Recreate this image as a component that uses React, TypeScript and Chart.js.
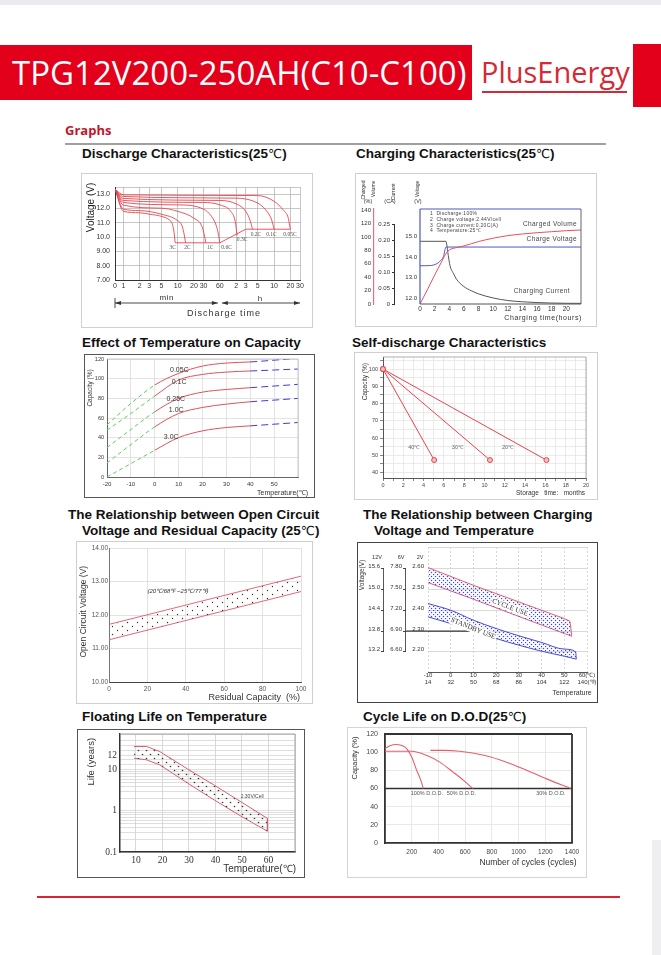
import React, { useEffect, useRef } from 'react';
import { Chart, registerables } from 'chart.js';

Chart.register(...registerables);

const SANS = '"Liberation Sans", Arial, Helvetica, sans-serif';
const SERIF = '"Liberation Serif", "DejaVu Serif", serif';
const OPEN = '"Open Sans", "Noto Sans", sans-serif';
Chart.defaults.font.family = SANS;

const RED = '#e8434b';

/* ---------- 1. Discharge characteristics (x: minutes, log) ---------- */
const dischargeTickMinutes = [0.7, 1, 2, 3, 5, 10, 20, 30, 60, 120, 180, 300, 600, 1200, 1800];
const dischargeTickLabels = ['0', '1', '2', '3', '5', '10', '20', '30', '60', '2', '3', '5', '10', '20', '30'];
const dischargeVoltTicks = [7, 8, 9, 10, 11, 12, 13, 13.5];
const dischargeVoltLabels = ['7.00', '8.00', '9.00', '10.0', '11.0', '12.0', '13.0', ''];
const rateNames = ['3C', '2C', '1C', '0.6C', '0.3C', '0.2C', '0.1C', '0.05C'];
const minutes3C = [0.7, 1, 2, 3, 5, 7, 8, 8.6, 9];
const volts3C = [13.35, 11.8, 11.7, 11.6, 11.45, 11.2, 10.9, 10.3, 9.6];
const minutes2C = [0.7, 1, 2, 5, 10, 12, 13, 14];
const volts2C = [13.35, 11.95, 11.85, 11.6, 11.15, 10.8, 10.3, 9.6];
const minutes1C = [0.7, 1, 5, 10, 20, 28, 31, 33];
const volts1C = [13.35, 12.23, 12.02, 11.8, 11.32, 10.75, 10.15, 9.6];
const minutes06C = [0.7, 1, 10, 30, 42, 52, 57, 60];
const volts06C = [13.35, 12.42, 12.25, 11.95, 11.45, 10.75, 10.1, 9.6];
const minutes03C = [0.7, 1, 30, 60, 95, 115, 125];
const volts03C = [13.35, 12.56, 12.42, 12.25, 11.8, 11.1, 10.1];
const minutes02C = [0.7, 1, 60, 120, 180, 215, 240];
const volts02C = [13.35, 12.7, 12.56, 12.32, 11.8, 11.2, 10.55];
const minutes01C = [0.7, 1, 120, 300, 420, 540, 600];
const volts01C = [13.35, 12.84, 12.72, 12.37, 11.9, 11.2, 10.55];
const minutes005C = [0.7, 1, 300, 600, 880, 1100, 1160, 1200];
const volts005C = [13.35, 12.95, 12.9, 12.5, 11.9, 11.3, 10.8, 10.55];
const cutoffMinutes = [9, 60, 180, 1200];
const cutoffVolts = [9.6, 9.6, 10.55, 10.55];
const rateLabelMinutes = [8.1, 15.2, 40, 80, 154, 278, 536, 1178];
const rateLabelVolts = [9.25, 9.25, 9.25, 9.25, 9.84, 10.19, 10.19, 10.19];

/* ---------- 2. Charging characteristics ---------- */
const chargeHourTicks = [0, 2, 4, 6, 8, 10, 12, 14, 16, 18, 20];
const volumeTicks = [0, 20, 40, 60, 80, 100, 120, 140];
const currentTicks = [0, 0.05, 0.1, 0.15, 0.2, 0.25];
const currentTickLabels = ['0', '0.05', '0.10', '0.15', '0.20', '0.25'];
const chargeVoltTicks = [12, 13, 14, 15];
const chargeVoltTickLabels = ['12.0', '13.0', '14.0', '15.0'];
const volumeHours = [0, 1, 2, 3, 3.6, 4, 5, 6, 8, 10, 12, 14, 16, 18, 20, 22];
const volumePct = [0, 21, 43, 64, 76, 80.5, 84, 86.5, 93, 98, 101.8, 104.3, 106.2, 107.7, 109.2, 110.2];
const voltageHours = [0, 1.4, 2.3, 2.7, 3.2, 3.55, 22];
const voltageV = [13.57, 13.58, 13.67, 13.78, 14.02, 14.48, 14.48];
const currentHours = [0, 3.55, 3.64, 3.86, 4.09, 4.55, 5, 6, 7, 8, 10, 12, 14, 18, 22];
const currentCA = [0.198, 0.198, 0.19, 0.154, 0.122, 0.097, 0.078, 0.055, 0.042, 0.032, 0.019, 0.011, 0.007, 0.003, 0.002];
const chargeNotes = ['1  Discharge:100%', '2  Charge voltage:2.44V/cell', '3  Charge current:0.20C(A)', '4  Temperature:25℃'];

/* ---------- 3. Effect of temperature on capacity ---------- */
const tempTicks = [-20, -10, 0, 10, 20, 30, 40, 50, 60];
const tempTickLabels = ['-20', '-10', '0', '10', '20', '30', '40', '50', ''];
const capTicks = [0, 20, 40, 60, 80, 100, 120];
const capTemps = [-20, -10, 0, 10, 20, 30, 40, 50, 60];
const cap005C = [53, 74.8, 93.5, 105.4, 112.8, 115.9, 117, 118.8, 120.7];
const cap01C = [47.6, 64.6, 82.3, 98.6, 104.3, 106.7, 107.8, 108.8, 109.8];
const cap025C = [30, 48.3, 66.3, 79.9, 86.3, 89, 90.8, 92.5, 94.2];
const cap1C = [14.3, 33, 51, 64.6, 70.7, 74.1, 76.5, 78.2, 79.9];
const cap3C = [0, 13.6, 27.2, 40.1, 46.9, 50.3, 52, 53.7, 55.4];
const capCurveNames = ['0.05C', '0.1C', '0.25C', '1.0C', '3.0C'];
const capLabelTemps = [10.3, 10.2, 8.8, 9.0, 6.9];
const capLabelValues = [108.8, 96.8, 79.2, 68, 40.5];

/* ---------- 4. Self-discharge ---------- */
const storageTicks = [0, 1, 2, 3, 4, 5, 6, 7, 8, 9, 10, 11, 12, 13, 14, 15, 16, 17, 18, 19, 20];
const sdCapTicks = [40, 45, 50, 55, 60, 65, 70, 75, 80, 85, 90, 95, 100, 105];
const sd40Months = [0, 5.04];
const sd40Cap = [100, 47.2];
const sd30Months = [0, 10.54];
const sd30Cap = [100, 47.2];
const sd20Months = [0, 16.1];
const sd20Cap = [100, 47.2];
const sdLabelNames = ['40℃', '30℃', '20℃'];
const sdLabelMonths = [3.03, 7.33, 12.27];
const sdLabelCap = [54.5, 54.5, 54.5];

/* ---------- 5. Open circuit voltage vs residual capacity ---------- */
const ocvCapTicks = [0, 20, 40, 60, 80, 100];
const ocvVoltTicks = [10, 11, 12, 13, 14];
const ocvVoltLabels = ['10.00', '11.00', '12.00', '13.00', '14.00'];
const ocvResidual = [0, 100];
const ocvUpper = [11.72, 13.16];
const ocvLower = [11.26, 12.7];

/* ---------- 6. Charging voltage vs temperature ---------- */
const cvTempTicks = [-10, 0, 10, 20, 30, 40, 50, 60];
const cvTempLabelsC = ['-10', '0', '10', '20', '30', '40', '50', '60(℃)'];
const cvTempLabelsF = ['14', '32', '50', '68', '86', '104', '122', '140(℉)'];
const cv2Ticks = [2.2, 2.3, 2.4, 2.5, 2.6, 2.7];
const cv2Labels = ['2.20', '2.30', '2.40', '2.50', '2.60', ''];
const cv6Ticks = [6.6, 6.9, 7.2, 7.5, 7.8];
const cv6Labels = ['6.60', '6.90', '7.20', '7.50', '7.80'];
const cv12Ticks = [13.2, 13.8, 14.4, 15.0, 15.6];
const cv12Labels = ['13.2', '13.8', '14.4', '15.0', '15.6'];
const cycleUpperT = [-10, 10, 30, 50, 52.5, 53.3];
const cycleUpperV = [2.605, 2.52, 2.44, 2.36, 2.347, 2.275];
const cycleLowerT = [-10, 10, 30, 50, 53.3];
const cycleLowerV = [2.533, 2.453, 2.37, 2.288, 2.275];
const standbyUpperT = [-10, 0, 10, 20, 30, 40, 50, 55, 55.3];
const standbyUpperV = [2.432, 2.4, 2.352, 2.312, 2.277, 2.245, 2.213, 2.2, 2.165];
const standbyLowerT = [-10, 0, 10, 20, 30, 40, 50, 55.3];
const standbyLowerV = [2.368, 2.336, 2.3, 2.264, 2.232, 2.203, 2.179, 2.165];
const floatRefV = 2.3;
const floatRefEndT = 10;

/* ---------- 7. Floating life on temperature ---------- */
const floatTempTicks = [10, 20, 30, 40, 50, 60, 70];
const floatTempLabels = ['10', '20', '30', '40', '50', '60', ''];
const lifeGrid = [0.1, 0.2, 0.3, 0.4, 0.5, 0.6, 0.7, 0.8, 0.9, 1, 2, 3, 4, 5, 6, 7, 8, 9, 10, 10.7, 11.4, 12, 12.7, 13.4, 14.1, 15];
const lifeGridLabels = ['0.1', '', '', '', '', '', '', '', '', '1', '', '', '', '', '', '', '', '', '10', '', '', '12', '', '', '', ''];
const floatUpperT = [9.3, 14, 19, 29.6, 39.6, 49.6, 59.6, 59.6];
const floatUpperLife = [13.26, 13.26, 12.56, 10.1, 4.22, 1.67, 0.657, 0.321];
const floatLowerT = [9.3, 14, 19, 29.6, 39.6, 49.6, 59.6];
const floatLowerLife = [11.63, 11.4, 10.7, 4.72, 1.84, 0.748, 0.321];

/* ---------- 8. Cycle life on D.O.D ---------- */
const cycleTicks = [0, 200, 400, 600, 800, 1000, 1200, 1400];
const cycleTickLabels = ['', '200', '400', '600', '800', '1000', '1200', '1400'];
const cycleCapTicks = [0, 20, 40, 60, 80, 100, 120];
const dod100Cycles = [0, 37, 82, 125, 162, 200, 237, 267, 287];
const dod100Cap = [104, 107, 108.5, 107.4, 104, 94.7, 80, 69.5, 60];
const dod50Cycles = [0, 100, 200, 310, 410, 510, 590, 657];
const dod50Cap = [101, 101, 101, 96.6, 89, 78, 68.7, 60];
const dod30Cycles = [340, 440, 560, 740, 910, 1060, 1210, 1390];
const dod30Cap = [102, 102, 101, 96.6, 89, 80, 70.6, 60];
const eolCapacity = 60;
const dodNames = ['100% D.O.D.', '50% D.O.D.', '30% D.O.D.'];
const dodLabelCycles = [192, 462, 1132];
const dodLabelCap = [54.6, 54.6, 54.6];

/* ---------- helpers ---------- */
const lifeAxis = (v: number) => (v <= 10 ? Math.log10(v) : 1 + (v - 10) * 0.175);

const ticksFrom = (values: number[]) => (s: any) => {
  s.ticks = values.map((v) => ({ value: v }));
};
const labelsFrom = (labels: any[]) => (_v: any, i: number) => labels[i];
const fitW = (w: number) => (s: any) => {
  s.width = w;
  s.paddingTop = 0;
  s.paddingBottom = 0;
};
const fitH = (h: number) => (s: any) => {
  s.height = h;
  s.paddingLeft = 0;
  s.paddingRight = 0;
};
const font = (size: number, family = SANS) => ({ size, family });

function line(xs: number[], ys: number[], color: string, width = 1, extra: any = {}) {
  return {
    data: xs.map((x, i) => ({ x, y: ys[i] })),
    borderColor: color,
    borderWidth: width,
    pointRadius: 0,
    fill: false,
    tension: 0,
    ...extra,
  };
}

function base(padding: any) {
  return {
    responsive: false,
    maintainAspectRatio: false,
    animation: false,
    devicePixelRatio: 1,
    events: [],
    layout: { padding },
    plugins: { legend: { display: false }, tooltip: { enabled: false }, title: { display: false } },
  };
}

type T = {
  text: string; x: number; y: number; dx?: boolean; dy?: boolean; xs?: string; ys?: string;
  size: number; family?: string; weight?: string; style?: string; color?: string;
  align?: CanvasTextAlign; baseline?: CanvasTextBaseline; rot?: number; spacing?: number; bg?: string;
};

function textPlugin(id: string, items: T[]) {
  return {
    id,
    afterDraw(chart: any) {
      const ctx: CanvasRenderingContext2D = chart.ctx;
      for (const it of items) {
        const px = it.dx ? chart.scales[it.xs || 'x'].getPixelForValue(it.x) : it.x;
        const py = it.dy ? chart.scales[it.ys || 'y'].getPixelForValue(it.y) : it.y;
        ctx.save();
        ctx.translate(px, py);
        if (it.rot) ctx.rotate((it.rot * Math.PI) / 180);
        ctx.font = `${it.style || 'normal'} ${it.weight || 'normal'} ${it.size}px ${it.family || SANS}`;
        (ctx as any).letterSpacing = (it.spacing || 0) + 'px';
        ctx.textAlign = it.align || 'center';
        ctx.textBaseline = it.baseline || 'middle';
        if (it.bg) {
          const w = ctx.measureText(it.text).width;
          const x0 = ctx.textAlign === 'center' ? -w / 2 : ctx.textAlign === 'right' ? -w : 0;
          ctx.fillStyle = it.bg;
          ctx.fillRect(x0 - 1, -it.size * 0.6, w + 2, it.size * 1.2);
        }
        ctx.fillStyle = it.color || '#333';
        ctx.fillText(it.text, 0, 0);
        ctx.restore();
      }
    },
  };
}

function drawPlugin(id: string, fn: (chart: any, ctx: CanvasRenderingContext2D) => void) {
  return {
    id,
    afterDraw(chart: any) {
      const ctx = chart.ctx;
      ctx.save();
      fn(chart, ctx);
      ctx.restore();
    },
  };
}

function seg(ctx: CanvasRenderingContext2D, x1: number, y1: number, x2: number, y2: number, color: string, w = 1) {
  ctx.strokeStyle = color;
  ctx.lineWidth = w;
  ctx.beginPath();
  ctx.moveTo(x1, y1);
  ctx.lineTo(x2, y2);
  ctx.stroke();
}

function dotPattern(canvas: HTMLCanvasElement, tw: number, th: number, dots: number[][], color: string, r: number) {
  const c = document.createElement('canvas');
  c.width = tw;
  c.height = th;
  const g = c.getContext('2d')!;
  g.fillStyle = color;
  dots.forEach(([x, y]) => {
    g.beginPath();
    g.arc(x, y, r, 0, Math.PI * 2);
    g.fill();
  });
  return canvas.getContext('2d')!.createPattern(c, 'repeat');
}

/* ---------- chart configs ---------- */
function dischargeChart() {
  const series = [
    [minutes3C, volts3C], [minutes2C, volts2C], [minutes1C, volts1C], [minutes06C, volts06C],
    [minutes03C, volts03C], [minutes02C, volts02C], [minutes01C, volts01C], [minutes005C, volts005C],
  ];
  const datasets: any[] = series.map(([m, v]) => line(m, v, RED, 0.9, { cubicInterpolationMode: 'monotone' }));
  datasets.push(line(cutoffMinutes, cutoffVolts, RED, 0.9));
  const texts: T[] = rateNames.map((n, i) => ({
    text: n, x: rateLabelMinutes[i], y: rateLabelVolts[i], dx: true, dy: true, size: 5.5, family: SERIF, color: '#555',
  }));
  texts.push(
    { text: 'Voltage (V)', x: 10, y: 34.5, rot: -90, size: 10, color: '#222' },
    { text: 'min', x: 85.7, y: 125, size: 8, color: '#333', spacing: 0.5 },
    { text: 'h', x: 179, y: 126, size: 8, color: '#333' },
    { text: 'Discharge time', x: 143, y: 140.5, size: 9, color: '#333', spacing: 1 },
  );
  const arrows = drawPlugin('arrows', (chart, ctx) => {
    const xs = chart.scales.x;
    const y = 130;
    const a = xs.getPixelForValue(0.7);
    const m = xs.getPixelForValue(60);
    const b = xs.getPixelForValue(1800);
    seg(ctx, a, y, m - 2, y, '#333', 0.9);
    seg(ctx, m + 2, y, b, y, '#333', 0.9);
    seg(ctx, a, y - 5, a, y + 5, '#333', 0.9);
    ctx.fillStyle = '#333';
    const head = (x: number, dir: number) => {
      ctx.beginPath();
      ctx.moveTo(x, y);
      ctx.lineTo(x - dir * 6, y - 2);
      ctx.lineTo(x - dir * 6, y + 2);
      ctx.closePath();
      ctx.fill();
    };
    head(a, -1);
    head(m - 2, 1);
    head(m + 2, -1);
    head(b, 1);
  });
  return {
    type: 'line',
    data: { datasets },
    options: {
      ...base({ left: 0, top: 14, right: 13, bottom: 0 }),
      scales: {
        x: {
          type: 'logarithmic', bounds: 'data', min: 0.7, max: 1800,
          afterBuildTicks: ticksFrom(dischargeTickMinutes), afterFit: fitH(48),
          ticks: { autoSkip: false, maxRotation: 0, minRotation: 0, padding: 2, color: '#333', font: font(7), callback: labelsFrom(dischargeTickLabels) },
          grid: { color: '#b8b8b8', lineWidth: 0.8, drawTicks: false },
          border: { color: '#333', width: 1 },
        },
        y: {
          type: 'linear', bounds: 'data', min: 7, max: 13.5,
          afterBuildTicks: ticksFrom(dischargeVoltTicks), afterFit: fitW(34),
          ticks: { autoSkip: false, padding: 5, color: '#333', font: font(7), callback: labelsFrom(dischargeVoltLabels) },
          grid: { color: '#b8b8b8', lineWidth: 0.8, drawTicks: false },
          border: { color: '#333', width: 1 },
        },
      },
    },
    plugins: [textPlugin('t1', texts), arrows],
  };
}

function chargingChart() {
  const datasets = [
    line(volumeHours, volumePct, '#e8505a', 1, { yAxisID: 'y', cubicInterpolationMode: 'monotone' }),
    line(voltageHours, voltageV, '#4a5ac0', 1, { yAxisID: 'yV', cubicInterpolationMode: 'monotone' }),
    line(currentHours, currentCA, '#555', 1, { yAxisID: 'yCA', cubicInterpolationMode: 'monotone' }),
  ];
  const texts: T[] = [
    { text: '(%)', x: 13, y: 28.7, size: 5.5 },
    { text: '(CA)', x: 35, y: 28.7, size: 5.5 },
    { text: '(V)', x: 63, y: 28.7, size: 5.5 },
    { text: 'Charged', x: 8.3, y: 17, rot: -90, size: 5 },
    { text: 'Volume', x: 18.3, y: 16, rot: -90, size: 5 },
    { text: 'Current', x: 38.3, y: 18.7, rot: -90, size: 5 },
    { text: 'Voltage', x: 62.7, y: 16, rot: -90, size: 5 },
    { text: 'Charged Volume', x: 222, y: 51.7, align: 'right', size: 6.5, spacing: 0.4, color: '#444' },
    { text: 'Charge Voltage', x: 222, y: 66.3, align: 'right', size: 6.5, spacing: 0.4, color: '#444' },
    { text: 'Charging Current', x: 215, y: 118, align: 'right', size: 6.5, spacing: 0.4, color: '#444' },
    { text: 'Charging time(hours)', x: 227, y: 144.7, align: 'right', size: 7, spacing: 0.6, color: '#333' },
  ];
  chargeNotes.forEach((n, i) => texts.push({ text: n, x: 75, y: 41 + i * 5.6, align: 'left', size: 5, spacing: 0.3, color: '#444' }));
  const frame = drawPlugin('frame2', (chart, ctx) => {
    const a = chart.chartArea;
    seg(ctx, a.left, a.top, a.left, a.bottom, '#4a5ac0', 1.2);
    seg(ctx, a.left, a.top, a.right, a.top, '#4a5ac0', 1);
    seg(ctx, a.right, a.top, a.right, a.bottom, '#666', 1);
    seg(ctx, a.left, a.bottom, a.right, a.bottom, '#555', 1);
    const ca = chart.scales.yCA;
    seg(ctx, ca.right - 0.5, ca.getPixelForValue(0.25), ca.right - 0.5, ca.getPixelForValue(0), '#333', 1);
  });
  return {
    type: 'line',
    data: { datasets },
    options: {
      ...base({ left: 0, top: 36, right: 16, bottom: 0 }),
      scales: {
        x: {
          type: 'linear', bounds: 'data', min: 0, max: 22,
          afterBuildTicks: ticksFrom(chargeHourTicks), afterFit: fitH(23),
          ticks: { autoSkip: false, maxRotation: 0, minRotation: 0, padding: 1, color: '#333', font: font(6.5) },
          grid: { display: false, drawTicks: false },
          border: { display: false },
        },
        y: {
          type: 'linear', position: 'left', weight: 2, bounds: 'data', min: 0, max: 141.5,
          afterBuildTicks: ticksFrom(volumeTicks), afterFit: fitW(19),
          ticks: { autoSkip: false, padding: 3, color: '#333', font: font(6) },
          grid: { display: false, drawTicks: false },
          border: { color: '#e87080', width: 1.2 },
        },
        yCA: {
          type: 'linear', position: 'left', weight: 1, bounds: 'data', min: 0, max: 0.3,
          afterBuildTicks: ticksFrom(currentTicks), afterFit: fitW(21),
          ticks: { autoSkip: false, padding: 2, color: '#333', font: font(6), callback: labelsFrom(currentTickLabels) },
          grid: { display: true, drawOnChartArea: false, tickLength: 3, color: '#333' },
          border: { display: false },
        },
        yV: {
          type: 'linear', position: 'left', weight: 0, bounds: 'data', min: 11.71, max: 16.33,
          afterBuildTicks: ticksFrom(chargeVoltTicks), afterFit: fitW(25),
          ticks: { autoSkip: false, padding: 3, color: '#333', font: font(6), callback: labelsFrom(chargeVoltTickLabels) },
          grid: { display: false, drawTicks: false },
          border: { display: false },
        },
      },
    },
    plugins: [frame, textPlugin('t2', texts)],
  };
}

function temperatureChart() {
  const GREEN = '#5ccf5c';
  const BLUE = '#3c3ce0';
  const REDC = '#e0505a';
  const segStyle = {
    borderColor: (c: any) => (c.p0.parsed.x < 0 ? GREEN : c.p0.parsed.x >= 40 ? BLUE : REDC),
    borderDash: (c: any) => (c.p0.parsed.x < 0 ? [4, 3] : c.p0.parsed.x >= 40 ? [7, 4] : []),
  };
  const curves = [cap005C, cap01C, cap025C, cap1C, cap3C];
  const datasets = curves.map((v) => line(capTemps, v, REDC, 1, { cubicInterpolationMode: 'monotone', segment: segStyle }));
  const texts: T[] = capCurveNames.map((n, i) => ({
    text: n, x: capLabelTemps[i], y: capLabelValues[i], dx: true, dy: true, size: 7, color: '#333',
  }));
  texts.push(
    { text: 'Temperature(℃)', x: 224, y: 139.3, align: 'right', size: 7, color: '#333' },
    { text: 'Capacity (%)', x: 6, y: 34, rot: -90, size: 6.5, color: '#333' },
  );
  const frame = drawPlugin('frame3', (chart, ctx) => {
    const a = chart.chartArea;
    seg(ctx, a.left, a.top, a.right, a.top, '#bbb', 0.8);
    seg(ctx, a.right, a.top, a.right, a.bottom, '#bbb', 0.8);
  });
  return {
    type: 'line',
    data: { datasets },
    options: {
      ...base({ left: 0, top: 5, right: 17, bottom: 0 }),
      scales: {
        x: {
          type: 'linear', bounds: 'data', min: -20, max: 60,
          afterBuildTicks: ticksFrom(tempTicks), afterFit: fitH(21),
          ticks: { autoSkip: false, maxRotation: 0, minRotation: 0, padding: 4, color: '#333', font: font(6), callback: labelsFrom(tempTickLabels) },
          grid: { color: '#dcdcdc', lineWidth: 0.8, drawTicks: false },
          border: { color: '#666', width: 1 },
        },
        y: {
          type: 'linear', bounds: 'data', min: 0, max: 120,
          afterBuildTicks: ticksFrom(capTicks), afterFit: fitW(23),
          ticks: { autoSkip: false, padding: 3, color: '#333', font: font(5.5) },
          grid: { color: '#dcdcdc', lineWidth: 0.8, drawTicks: false },
          border: { color: '#666', width: 1 },
        },
      },
    },
    plugins: [frame, textPlugin('t3', texts)],
  };
}

function selfDischargeChart() {
  const pt = { pointRadius: 2.5, pointBorderWidth: 1, pointBorderColor: RED, pointBackgroundColor: '#f5c0c0' };
  const datasets = [
    line(sd40Months, sd40Cap, RED, 1, pt),
    line(sd30Months, sd30Cap, RED, 1, pt),
    line(sd20Months, sd20Cap, RED, 1, pt),
  ];
  const texts: T[] = sdLabelNames.map((n, i) => ({
    text: n, x: sdLabelMonths[i], y: sdLabelCap[i], dx: true, dy: true, size: 5.5, color: '#666',
  }));
  texts.push(
    { text: 'Storage   time:   months', x: 231, y: 141.3, align: 'right', size: 6.5, color: '#333' },
    { text: 'Capacity (%)', x: 11, y: 29.7, rot: -90, size: 6.5, color: '#333' },
  );
  const frame = drawPlugin('frame4', (chart, ctx) => {
    const a = chart.chartArea;
    seg(ctx, a.left, a.top, a.right, a.top, '#999', 0.8);
    seg(ctx, a.right, a.top, a.right, a.bottom, '#999', 0.8);
  });
  return {
    type: 'line',
    data: { datasets },
    options: {
      ...base({ left: 0, top: 3, right: 12, bottom: 0 }),
      clip: false,
      scales: {
        x: {
          type: 'linear', bounds: 'data', min: 0, max: 20,
          afterBuildTicks: ticksFrom(storageTicks), afterFit: fitH(22),
          ticks: { autoSkip: false, maxRotation: 0, minRotation: 0, padding: 1, color: '#444', font: font(5.5), callback: (v: number) => (v % 2 === 0 ? String(v) : '') },
          grid: { color: '#e3e3e3', lineWidth: 0.7, tickLength: 3, tickColor: '#555' },
          border: { color: '#555', width: 1 },
        },
        y: {
          type: 'linear', bounds: 'data', min: 36.8, max: 107,
          afterBuildTicks: ticksFrom(sdCapTicks), afterFit: fitW(29),
          ticks: { autoSkip: false, padding: 2, color: '#444', font: font(5.5), callback: (v: number) => (v % 10 === 0 ? String(v) : '') },
          grid: { color: '#e3e3e3', lineWidth: 0.7, tickLength: 3, tickColor: '#555' },
          border: { color: '#555', width: 1 },
        },
      },
    },
    plugins: [frame, textPlugin('t4', texts)],
  };
}

function ocvChart(canvas: HTMLCanvasElement) {
  const pat = dotPattern(canvas, 10, 8, [[1.5, 1.5], [6.5, 5.5]], '#333', 0.7);
  const datasets = [
    line(ocvResidual, ocvUpper, '#e26a78', 1, { fill: '+1', backgroundColor: pat }),
    line(ocvResidual, ocvLower, '#e26a78', 1),
  ];
  const texts: T[] = [
    { text: '(20℃/68℉ ~25℃/77℉)', x: 20, y: 12.72, dx: true, dy: true, align: 'left', size: 6, style: 'italic', color: '#333' },
    { text: 'Residual Capacity  (%)', x: 224, y: 156.7, align: 'right', size: 9, color: '#333' },
    { text: 'Open Circuit Voltage (V)', x: 7.3, y: 70.7, rot: -90, size: 8.5, color: '#333' },
  ];
  return {
    type: 'line',
    data: { datasets },
    options: {
      ...base({ left: 0, top: 7, right: 12, bottom: 0 }),
      scales: {
        x: {
          type: 'linear', bounds: 'data', min: 0, max: 100,
          afterBuildTicks: ticksFrom(ocvCapTicks), afterFit: fitH(22),
          ticks: { autoSkip: false, maxRotation: 0, minRotation: 0, padding: 3, color: '#555', font: font(6.5) },
          grid: { color: '#dadada', lineWidth: 0.8, drawTicks: false },
          border: { color: '#444', width: 1 },
        },
        y: {
          type: 'linear', bounds: 'data', min: 10, max: 14,
          afterBuildTicks: ticksFrom(ocvVoltTicks), afterFit: fitW(33),
          ticks: { autoSkip: false, padding: 1, color: '#555', font: font(6.5), callback: labelsFrom(ocvVoltLabels) },
          grid: { color: '#dadada', lineWidth: 0.8, drawTicks: false },
          border: { color: '#777', width: 1 },
        },
      },
    },
    plugins: [textPlugin('t5', texts)],
  };
}

function chargeVoltChart(canvas: HTMLCanvasElement) {
  const pat = dotPattern(canvas, 4, 4, [[0.5, 0.5], [2.5, 2.5]], '#3b4bd0', 0.75);
  const pat2 = dotPattern(canvas, 4, 4, [[0.5, 0.5], [2.5, 2.5]], '#3b4bd0', 0.75);
  const y2Min = 2.103;
  const y2Max = 2.704;
  const datasets = [
    line(cycleUpperT, cycleUpperV, '#e0607a', 1, { fill: '+1', backgroundColor: pat }),
    line(cycleLowerT, cycleLowerV, '#e0607a', 1),
    line(standbyUpperT, standbyUpperV, '#4a4ad0', 1, { fill: '+1', backgroundColor: pat2, cubicInterpolationMode: 'monotone' }),
    line(standbyLowerT, standbyLowerV, '#4a4ad0', 1, { cubicInterpolationMode: 'monotone' }),
  ];
  const texts: T[] = [
    { text: '12V', x: 20, y: 15.3, size: 5.5 },
    { text: '6V', x: 44, y: 15.3, size: 5.5 },
    { text: '2V', x: 63, y: 15.3, size: 5.5 },
    { text: 'Voltage(V)', x: 5.7, y: 33, rot: -90, size: 6.5, color: '#333' },
    { text: 'Temperature', x: 234.7, y: 151.3, align: 'right', size: 7, color: '#333' },
    { text: 'CYCLE USE', x: 26.1, y: 2.413, dx: true, dy: true, rot: 21, size: 7, family: SERIF, color: '#333', bg: '#fff' },
    { text: 'STANDBY USE', x: 9.9, y: 2.312, dx: true, dy: true, rot: 22, size: 7, family: SERIF, color: '#333', bg: '#fff' },
  ];
  const axes = drawPlugin('axes6', (chart, ctx) => {
    const y = chart.scales.y;
    const top = y.getPixelForValue(2.6);
    const bot = y.getPixelForValue(2.2);
    const s6 = chart.scales.y6;
    const s12 = chart.scales.y12;
    seg(ctx, s12.right - 0.5, top, s12.right - 0.5, bot, '#444', 0.9);
    seg(ctx, s6.right - 0.5, top, s6.right - 0.5, bot, '#444', 0.9);
    const yr = y.getPixelForValue(floatRefV);
    seg(ctx, s6.right, yr, chart.scales.x.getPixelForValue(floatRefEndT), yr, '#333', 1.2);
  });
  const tickCommon = { autoSkip: false, color: '#333', font: font(6) };
  return {
    type: 'line',
    data: { datasets },
    options: {
      ...base({ left: 0, top: 5, right: 11, bottom: 0 }),
      scales: {
        x: {
          type: 'linear', bounds: 'data', min: -10, max: 60,
          afterBuildTicks: ticksFrom(cvTempTicks), afterFit: fitH(31),
          ticks: { ...tickCommon, maxRotation: 0, minRotation: 0, padding: 0, callback: (_v: any, i: number) => [cvTempLabelsC[i], cvTempLabelsF[i]] },
          grid: { color: '#cfcfcf', lineWidth: 0.8, drawTicks: false },
          border: { color: '#555', width: 1, dash: [2, 2] },
        },
        y: {
          type: 'linear', position: 'left', weight: 0, bounds: 'data', min: y2Min, max: y2Max,
          afterBuildTicks: ticksFrom(cv2Ticks), afterFit: fitW(22),
          ticks: { ...tickCommon, padding: 4, labelOffset: -2, callback: labelsFrom(cv2Labels) },
          grid: { color: '#cfcfcf', lineWidth: 0.8, drawTicks: false },
          border: { display: false },
        },
        y6: {
          type: 'linear', position: 'left', weight: 1, bounds: 'data', min: y2Min * 3, max: y2Max * 3,
          afterBuildTicks: ticksFrom(cv6Ticks), afterFit: fitW(22),
          ticks: { ...tickCommon, padding: 1, labelOffset: -2, callback: labelsFrom(cv6Labels) },
          grid: { display: true, drawOnChartArea: false, tickLength: 3, color: '#444' },
          border: { display: false },
        },
        y12: {
          type: 'linear', position: 'left', weight: 2, bounds: 'data', min: y2Min * 6, max: y2Max * 6,
          afterBuildTicks: ticksFrom(cv12Ticks), afterFit: fitW(27),
          ticks: { ...tickCommon, padding: 1, labelOffset: -2, callback: labelsFrom(cv12Labels) },
          grid: { display: true, drawOnChartArea: false, tickLength: 3, color: '#444' },
          border: { display: false },
        },
      },
    },
    plugins: [axes, textPlugin('t6', texts)],
  };
}

function floatLifeChart(canvas: HTMLCanvasElement) {
  const pat = dotPattern(canvas, 8, 8, [[1.5, 1.5], [5.5, 5.5]], '#333', 0.8);
  const datasets = [
    line(floatUpperT, floatUpperLife.map(lifeAxis), '#d8606e', 1, { fill: '+1', backgroundColor: pat }),
    line(floatLowerT, floatLowerLife.map(lifeAxis), '#d8606e', 1),
  ];
  const texts: T[] = [
    { text: '2.30V/Cell', x: 49.5, y: lifeAxis(2.2), dx: true, dy: true, align: 'left', size: 5, color: '#444' },
    { text: 'Temperature(℃)', x: 219, y: 140.3, align: 'right', size: 10, color: '#333' },
    { text: 'Life (years)', x: 14.7, y: 32.7, rot: -90, size: 9.5, color: '#333' },
  ];
  const frame = drawPlugin('frame7', (chart, ctx) => {
    const a = chart.chartArea;
    seg(ctx, a.left, a.top, a.right, a.top, '#999', 0.9);
    seg(ctx, a.right, a.top, a.right, a.bottom, '#999', 0.9);
  });
  return {
    type: 'line',
    data: { datasets },
    options: {
      ...base({ left: 0, top: 5, right: 10, bottom: 0 }),
      scales: {
        x: {
          type: 'linear', bounds: 'data', min: 4, max: 70,
          afterBuildTicks: ticksFrom(floatTempTicks), afterFit: fitH(26),
          ticks: { autoSkip: false, maxRotation: 0, minRotation: 0, padding: 3, color: '#333', font: font(9.5, SERIF), callback: labelsFrom(floatTempLabels) },
          grid: { color: '#cfcfcf', lineWidth: 0.8, drawTicks: false },
          border: { color: '#333', width: 1.5 },
        },
        y: {
          type: 'linear', bounds: 'data', min: lifeAxis(0.1), max: lifeAxis(15),
          afterBuildTicks: ticksFrom(lifeGrid.map(lifeAxis)), afterFit: fitW(43),
          ticks: { autoSkip: false, padding: 3, color: '#333', font: font(9.5, SERIF), callback: labelsFrom(lifeGridLabels) },
          grid: { color: '#d0d0d0', lineWidth: 0.7, drawTicks: false },
          border: { color: '#333', width: 1.5 },
        },
      },
    },
    plugins: [frame, textPlugin('t7', texts)],
  };
}

function cycleLifeChart() {
  const C = '#e4606a';
  const datasets = [
    line(dod100Cycles, dod100Cap, C, 1.1, { cubicInterpolationMode: 'monotone' }),
    line(dod50Cycles, dod50Cap, C, 1.1, { cubicInterpolationMode: 'monotone' }),
    line(dod30Cycles, dod30Cap, C, 1.1, { cubicInterpolationMode: 'monotone' }),
    line([0, 1400], [eolCapacity, eolCapacity], '#333', 1.5),
  ];
  const texts: T[] = dodNames.map((n, i) => ({
    text: n, x: dodLabelCycles[i], y: dodLabelCap[i], dx: true, dy: true, align: 'left', size: 5.5, color: '#555',
  }));
  texts.push(
    { text: 'Number of cycles (cycles)', x: 229.7, y: 135.3, align: 'right', size: 8.5, color: '#333' },
    { text: 'Capacity (%)', x: 8, y: 31, rot: -90, size: 7.5, color: '#333' },
  );
  const frame = drawPlugin('frame8', (chart, ctx) => {
    const a = chart.chartArea;
    seg(ctx, a.left, a.top, a.right, a.top, '#333', 1.8);
    seg(ctx, a.right, a.top, a.right, a.bottom, '#333', 1.8);
  });
  return {
    type: 'line',
    data: { datasets },
    options: {
      ...base({ left: 0, top: 7, right: 15, bottom: 0 }),
      scales: {
        x: {
          type: 'linear', bounds: 'data', min: 0, max: 1400,
          afterBuildTicks: ticksFrom(cycleTicks), afterFit: fitH(35),
          ticks: { autoSkip: false, maxRotation: 0, minRotation: 0, padding: 5, color: '#444', font: font(6.5), callback: labelsFrom(cycleTickLabels) },
          grid: { color: '#e3e3e3', lineWidth: 0.8, drawTicks: false },
          border: { color: '#333', width: 1.8 },
        },
        y: {
          type: 'linear', bounds: 'data', min: 0, max: 120,
          afterBuildTicks: ticksFrom(cycleCapTicks), afterFit: fitW(38),
          ticks: { autoSkip: false, padding: 7, color: '#444', font: font(7) },
          grid: { color: '#e3e3e3', lineWidth: 0.8, drawTicks: false },
          border: { color: '#333', width: 1.8 },
        },
      },
    },
    plugins: [frame, textPlugin('t8', texts)],
  };
}

/* ---------- components ---------- */
function ChartBox(props: { x: number; y: number; w: number; h: number; border: string; make: (c: HTMLCanvasElement) => any }) {
  const { x, y, w, h, border, make } = props;
  const ref = useRef<HTMLCanvasElement | null>(null);
  useEffect(() => {
    const canvas = ref.current;
    if (!canvas) return undefined;
    const chart = new Chart(canvas, make(canvas));
    return () => chart.destroy();
  }, []);
  return (
    <div style={{ position: 'absolute', left: x, top: y, width: w, height: h }}>
      <canvas ref={ref} width={w} height={h} style={{ position: 'absolute', left: 0, top: 0, width: w, height: h }} />
      <div style={{ position: 'absolute', left: 0, top: 0, width: w, height: h, border, boxSizing: 'border-box', pointerEvents: 'none' }} />
    </div>
  );
}

const Deg = () => <span style={{ fontWeight: 'normal', fontFamily: '"DejaVu Sans", sans-serif', fontSize: 12.5 }}>℃</span>;

function Title(props: { x: number; y: number; children: any }) {
  return (
    <div
      style={{
        position: 'absolute', left: props.x, top: props.y, fontFamily: SANS, fontWeight: 'bold', fontSize: 13.5,
        lineHeight: '16px', color: '#111', whiteSpace: 'nowrap',
      }}
    >
      {props.children}
    </div>
  );
}

export default function App() {
  return (
    <div style={{ position: 'absolute', left: 0, top: 0, width: 661, height: 955, background: '#fff', overflow: 'hidden' }}>
      <div style={{ position: 'absolute', left: 0, top: 0, width: 661, height: 5, background: '#ebebef' }} />
      <div style={{ position: 'absolute', left: 0, top: 45, width: 472, height: 55, background: '#e3001b' }} />
      <div
        style={{
          position: 'absolute', left: 12, top: 45, height: 55, lineHeight: '55px', color: '#fff', fontFamily: OPEN,
          fontSize: 33, whiteSpace: 'nowrap',
        }}
      >
        TPG12V200-250AH(C10-C100)
      </div>
      <div
        style={{
          position: 'absolute', left: 481, top: 50, height: 44, lineHeight: '44px', color: '#d42a35', fontFamily: OPEN,
          fontSize: 29, whiteSpace: 'nowrap',
        }}
      >
        PlusEnergy
      </div>
      <div style={{ position: 'absolute', left: 482, top: 91, width: 145, height: 1.5, background: '#d42a35' }} />
      <div style={{ position: 'absolute', left: 633, top: 44, width: 28, height: 63, background: '#e3001b' }} />
      <div
        style={{
          position: 'absolute', left: 65, top: 122, fontFamily: OPEN, fontWeight: 'bold', fontSize: 13, lineHeight: '16px',
          color: '#c0172b',
        }}
      >
        Graphs
      </div>
      <div style={{ position: 'absolute', left: 65, top: 143, width: 541, height: 2, background: '#a0a0a0' }} />

      <Title x={82} y={146}>Discharge Characteristics(25<Deg />)</Title>
      <Title x={356} y={146}>Charging Characteristics(25<Deg />)</Title>
      <Title x={82} y={335}>Effect of Temperature on Capacity</Title>
      <Title x={352} y={335}>Self-discharge Characteristics</Title>
      <Title x={68} y={507}>The Relationship between Open Circuit</Title>
      <Title x={82} y={523}>Voltage and Residual Capacity (25<Deg />)</Title>
      <Title x={363} y={507}>The Relationship between Charging</Title>
      <Title x={374} y={523}>Voltage and Temperature</Title>
      <Title x={82} y={709}>Floating Life on Temperature</Title>
      <Title x={363} y={709}>Cycle Life on D.O.D(25<Deg />)</Title>

      <ChartBox x={81} y={173} w={232} h={155} border="1px solid #cfcfcf" make={dischargeChart} />
      <ChartBox x={355} y={173} w={242} h={154} border="1px solid #cfcfcf" make={chargingChart} />
      <ChartBox x={84} y={354} w={231} h={144} border="1px solid #555" make={temperatureChart} />
      <ChartBox x={354} y={352} w={244} h={148} border="1px solid #cfcfcf" make={selfDischargeChart} />
      <ChartBox x={76} y={541} w={237} h={163} border="1px solid #cfcfcf" make={ocvChart} />
      <ChartBox x={357} y={542} w={241} h={161} border="1.5px solid #444" make={chargeVoltChart} />
      <ChartBox x={77} y={729} w={228} h={149} border="1.5px solid #555" make={floatLifeChart} />
      <ChartBox x={347} y={727} w={240} h={151} border="1px solid #d5d5d5" make={cycleLifeChart} />

      <div style={{ position: 'absolute', left: 37, top: 896, width: 583, height: 2, background: '#d92531' }} />
      <div style={{ position: 'absolute', left: 652, top: 840, width: 9, height: 115, background: '#efeff1' }} />
    </div>
  );
}
